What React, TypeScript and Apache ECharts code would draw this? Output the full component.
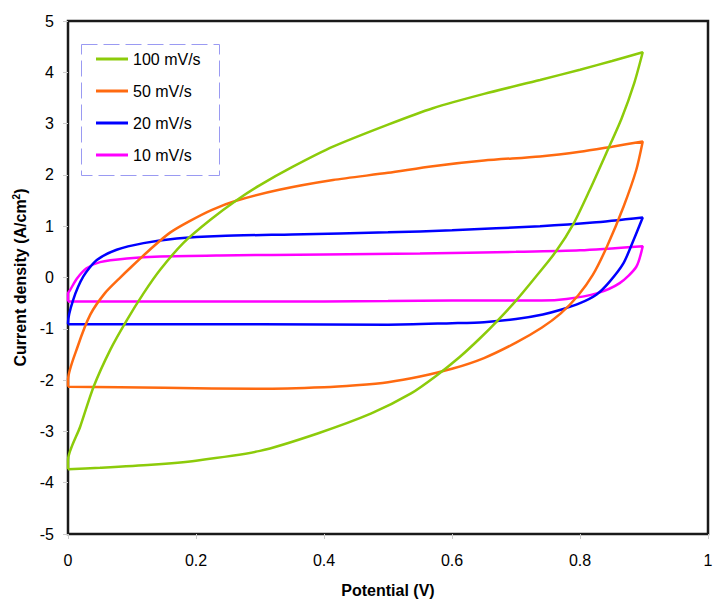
import React, { useEffect, useRef } from "react";
import * as echarts from "echarts";

// Potential (V), Current density (A/cm2) — each loop as [x, y] pairs
const names = ["100 mV/s", "50 mV/s", "20 mV/s", "10 mV/s"];
const colors = ["#8CCB0A", "#FF6A10", "#0000FF", "#FF00FF"];

const loop100: [number, number][] = [
  [0, -3.74], [0, -3.56], [0.019, -2.91], [0.04, -2.13], [0.066, -1.41], [0.092, -0.83],
  [0.118, -0.31], [0.144, 0.15], [0.18, 0.67], [0.222, 1.12], [0.264, 1.51], [0.3, 1.8],
  [0.35, 2.15], [0.414, 2.55], [0.5, 2.98], [0.57, 3.3], [0.65, 3.58], [0.7375, 3.85],
  [0.8, 4.05], [0.85, 4.22], [0.898, 4.39],
  [0.885, 3.8], [0.865, 3.1], [0.842, 2.45], [0.815, 1.7], [0.79, 1.05], [0.762, 0.5],
  [0.73, 0.0], [0.7, -0.45], [0.672, -0.83], [0.645, -1.17], [0.612, -1.55], [0.575, -1.92],
  [0.536, -2.26], [0.474, -2.65], [0.39, -3.04], [0.3, -3.38], [0.2, -3.57], [0.13, -3.65],
  [0.05, -3.71], [0, -3.74],
];

const loop50: [number, number][] = [
  [0, -2.13], [0, -2.0], [0.015, -1.35], [0.035, -0.72], [0.058, -0.3], [0.08, -0.02],
  [0.1, 0.22], [0.133, 0.6], [0.16, 0.88], [0.19, 1.1], [0.225, 1.32], [0.264, 1.5],
  [0.33, 1.71], [0.414, 1.9], [0.5, 2.04], [0.57, 2.17], [0.65, 2.28], [0.7375, 2.36],
  [0.8, 2.45], [0.85, 2.55], [0.898, 2.65],
  [0.888, 2.1], [0.868, 1.38], [0.842, 0.6], [0.82, 0.05], [0.797, -0.35], [0.77, -0.7],
  [0.74, -0.98], [0.7, -1.27], [0.65, -1.57], [0.6, -1.78], [0.55, -1.93], [0.5, -2.04],
  [0.45, -2.1], [0.4, -2.14], [0.3, -2.17], [0.15, -2.15], [0, -2.13],
];

const loop20: [number, number][] = [
  [0, -0.91], [0, -0.89], [0.008, -0.44], [0.024, 0.02], [0.045, 0.34], [0.076, 0.54],
  [0.118, 0.67], [0.17, 0.76], [0.2375, 0.81], [0.35, 0.84], [0.5, 0.88], [0.6, 0.92],
  [0.7375, 1.0], [0.82, 1.07], [0.898, 1.17],
  [0.886, 0.8], [0.868, 0.28], [0.845, -0.1], [0.826, -0.33], [0.8, -0.5], [0.77, -0.63],
  [0.742, -0.72], [0.7, -0.81], [0.65, -0.87], [0.6, -0.89], [0.5, -0.92], [0.3, -0.91],
  [0, -0.91],
];

const loop10: [number, number][] = [
  [0, -0.47], [0, -0.31], [0.003, -0.25], [0.014, -0.02], [0.029, 0.18], [0.05, 0.3],
  [0.092, 0.37], [0.144, 0.41], [0.2375, 0.43], [0.4, 0.45], [0.55, 0.47], [0.7, 0.5],
  [0.8, 0.53], [0.898, 0.61],
  [0.898, 0.6], [0.888, 0.21], [0.862, -0.11], [0.826, -0.31], [0.779, -0.42], [0.74, -0.45],
  [0.6, -0.45], [0.5, -0.46], [0.3, -0.47], [0, -0.47],
];

const loops = [loop100, loop50, loop20, loop10];

const FONT = 'Arial, "Liberation Sans", sans-serif';

export default function App() {
  const ref = useRef<HTMLDivElement>(null);
  useEffect(() => {
    if (!ref.current) return;
    const chart = echarts.init(ref.current, null, { renderer: "svg" });
    chart.setOption({
      animation: false,
      backgroundColor: "#ffffff",
      grid: {
        left: 68, right: 19, top: 21, bottom: 72,
        show: true, borderColor: "#1a1a1a", borderWidth: 2.5, backgroundColor: "transparent",
      },
      xAxis: {
        type: "value", min: 0, max: 1, interval: 0.2,
        name: "Potential (V)", nameLocation: "middle", nameGap: 48,
        nameTextStyle: { fontFamily: FONT, fontWeight: "bold", fontSize: 16, color: "#000" },
        axisLine: { show: false, onZero: false },
        axisTick: { show: true, length: 5, lineStyle: { color: "#cccccc" } },
        splitLine: { show: false },
        axisLabel: { margin: 18, fontFamily: FONT, fontSize: 16, color: "#000" },
      },
      yAxis: {
        type: "value", min: -5, max: 5, interval: 1,
        name: "Current density (A/cm{sup|2})", nameLocation: "middle", nameGap: 28, nameRotate: 90,
        nameTextStyle: {
          fontFamily: FONT, fontWeight: "bold", fontSize: 16, color: "#000",
          rich: { sup: { fontFamily: FONT, fontWeight: "bold", fontSize: 10, verticalAlign: "top", padding: [0, 0, 8, 0], color: "#000" } },
        },
        axisLine: { show: false, onZero: false },
        axisTick: { show: true, length: 5, lineStyle: { color: "#cccccc" } },
        splitLine: { show: false },
        axisLabel: { margin: 14, fontFamily: FONT, fontSize: 16, color: "#000" },
      },
      legend: {
        orient: "vertical", left: 79, top: 42, icon: "rect",
        padding: [9, 14, 10, 17], itemGap: 16, itemWidth: 32, itemHeight: 3,
        textStyle: { fontFamily: FONT, fontSize: 16, color: "#000" },
        data: names,
      },
      graphic: [
        {
          type: "rect", left: 79, top: 42, silent: true,
          shape: { width: 138, height: 131 },
          style: { fill: "none", stroke: "#9a9af2", lineWidth: 1, lineDash: [16, 6] },
        },
      ],
      series: loops.map((d, i) => ({
        type: "line", name: names[i], data: d, symbol: "none", showSymbol: false,
        smooth: 0.25,
        lineStyle: { color: colors[i], width: 2.5 }, itemStyle: { color: colors[i] },
        z: 10 - i,
      })),
    });
    return () => chart.dispose();
  }, []);
  return <div ref={ref} style={{ position: "fixed", left: 0, top: 0, width: 727, height: 606 }} />;
}
